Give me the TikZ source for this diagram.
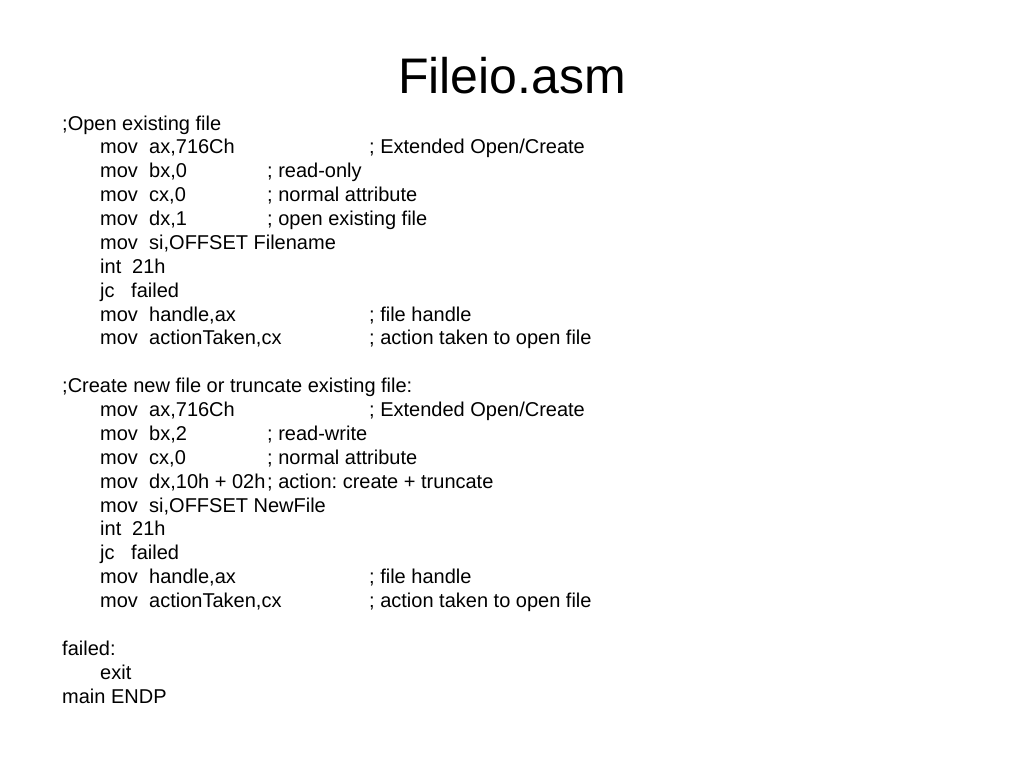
\documentclass[tikz,border=0pt]{standalone}
\usepackage{fontspec}
\setmainfont{Liberation Sans}
\frenchspacing
\begin{document}
\begin{tikzpicture}[x=1pt,y=-1pt,
  txt/.style={anchor=base west,inner sep=0pt,font=\fontsize{20}{24}\selectfont},
  ttl/.style={anchor=base,inner sep=0pt,font=\fontsize{50}{60}\selectfont}]
\useasboundingbox[fill=white] (0,0) rectangle (1024,768);
\def\L#1{\fpeval{130+23.88*#1}}
\node[ttl] (title) at (512,93) {Fileio.asm};
% block 1
\node[txt] (c0) at (62,{\L{0}}) {;Open existing file};
\node[txt] (o1) at (100,{\L{1}}) {mov}; \node[txt] (a1) at (149,{\L{1}}) {ax,716Ch}; \node[txt] (k1) at (369,{\L{1}}) {; Extended Open/Create};
\node[txt] (o2) at (100,{\L{2}}) {mov}; \node[txt] (a2) at (149,{\L{2}}) {bx,0}; \node[txt] (k2) at (267,{\L{2}}) {; read-only};
\node[txt] (o3) at (100,{\L{3}}) {mov}; \node[txt] (a3) at (149,{\L{3}}) {cx,0}; \node[txt] (k3) at (267,{\L{3}}) {; normal attribute};
\node[txt] (o4) at (100,{\L{4}}) {mov}; \node[txt] (a4) at (149,{\L{4}}) {dx,1}; \node[txt] (k4) at (267,{\L{4}}) {; open existing file};
\node[txt] (o5) at (100,{\L{5}}) {mov}; \node[txt] (a5) at (149,{\L{5}}) {si,OFFSET Filename};
\node[txt] (o6) at (100,{\L{6}}) {int}; \node[txt] (a6) at (132,{\L{6}}) {21h};
\node[txt] (o7) at (100,{\L{7}}) {jc}; \node[txt] (a7) at (131,{\L{7}}) {failed};
\node[txt] (o8) at (100,{\L{8}}) {mov}; \node[txt] (a8) at (149,{\L{8}}) {handle,ax}; \node[txt] (k8) at (369,{\L{8}}) {; file handle};
\node[txt] (o9) at (100,{\L{9}}) {mov}; \node[txt] (a9) at (149,{\L{9}}) {actionTaken,cx}; \node[txt] (k9) at (369,{\L{9}}) {; action taken to open file};
% block 2
\node[txt] (c11) at (62,{\L{11}}) {;Create new file or truncate existing file:};
\node[txt] (o12) at (100,{\L{12}}) {mov}; \node[txt] (a12) at (149,{\L{12}}) {ax,716Ch}; \node[txt] (k12) at (369,{\L{12}}) {; Extended Open/Create};
\node[txt] (o13) at (100,{\L{13}}) {mov}; \node[txt] (a13) at (149,{\L{13}}) {bx,2}; \node[txt] (k13) at (267,{\L{13}}) {; read-write};
\node[txt] (o14) at (100,{\L{14}}) {mov}; \node[txt] (a14) at (149,{\L{14}}) {cx,0}; \node[txt] (k14) at (267,{\L{14}}) {; normal attribute};
\node[txt] (o15) at (100,{\L{15}}) {mov}; \node[txt] (a15) at (149,{\L{15}}) {dx,10h + 02h}; \node[txt] (k15) at (267,{\L{15}}) {; action: create + truncate};
\node[txt] (o16) at (100,{\L{16}}) {mov}; \node[txt] (a16) at (149,{\L{16}}) {si,OFFSET NewFile};
\node[txt] (o17) at (100,{\L{17}}) {int}; \node[txt] (a17) at (132,{\L{17}}) {21h};
\node[txt] (o18) at (100,{\L{18}}) {jc}; \node[txt] (a18) at (131,{\L{18}}) {failed};
\node[txt] (o19) at (100,{\L{19}}) {mov}; \node[txt] (a19) at (149,{\L{19}}) {handle,ax}; \node[txt] (k19) at (369,{\L{19}}) {; file handle};
\node[txt] (o20) at (100,{\L{20}}) {mov}; \node[txt] (a20) at (149,{\L{20}}) {actionTaken,cx}; \node[txt] (k20) at (369,{\L{20}}) {; action taken to open file};
% end
\node[txt] (c22) at (62,{\L{22}}) {failed:};
\node[txt] (o23) at (100,{\L{23}}) {exit};
\node[txt] (c24) at (62,{\L{24}}) {main ENDP};
\end{tikzpicture}
\end{document}
